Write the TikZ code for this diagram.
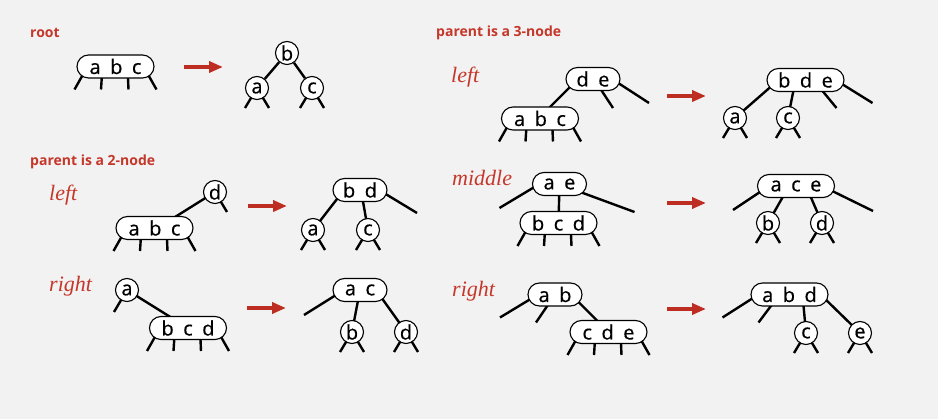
\documentclass[tikz,border=0pt]{standalone}
\usepackage{fontspec}
\setsansfont{Open Sans}
\newfontfamily\keyfont[FakeBold=0.5]{Open Sans}
\newfontfamily\casefont{Liberation Serif}
\usepackage{tikz}
\usetikzlibrary{arrows.meta, backgrounds}
\definecolor{pagebg}{HTML}{F2F2F2}
\definecolor{caseRed}{HTML}{C4372A}
\definecolor{arrowRed}{HTML}{BD2D21}
\newcommand{\kgap}{\hspace{9.5pt}}
\newcommand{\kidlegs}[1]{%
  \foreach \s/\e in {-28/-13, -13/-1.5, 12/1, 28/13}
    \draw[leg] ([xshift=\s]#1.center) -- ++(\e,23);%
}
\newcommand{\twolegs}[1]{\draw[leg] (#1.center) -- ++(-12,20) (#1.center) -- ++(12,20);}

\begin{document}
\begin{tikzpicture}[x=1pt, y=-1pt,
  keybox/.style={draw, fill=white, line width=1.1pt, rounded corners=11.5pt, minimum height=23pt, inner sep=0pt, font=\keyfont\fontsize{20}{20}\selectfont},
  twonode/.style={keybox, minimum width=54pt},
  thrnode/.style={keybox, minimum width=77pt},
  onekey/.style={draw, fill=white, line width=1.1pt, circle, minimum size=23pt, inner sep=0pt, font=\keyfont\fontsize{20}{20}\selectfont},
  link/.style={line width=2.4pt},
  leg/.style={line width=2.4pt},
  push/.style={arrowRed, line width=4pt, -{Triangle[length=14pt,width=11pt]}},
  heading/.style={anchor=base west, inner sep=0pt, caseRed, font=\sffamily\bfseries\fontsize{14}{14}\selectfont},
  casename/.style={anchor=base west, inner sep=0pt, caseRed, font=\casefont\itshape\fontsize{22}{22}\selectfont}]
\useasboundingbox (0,0) rectangle (938,419);

\node[heading] (root-lbl) at (30,38) {root};
\node[heading] (two-lbl) at (30,166) {parent is a 2-node};
\node[heading] (thr-lbl) at (436,37) {parent is a 3-node};
\node[casename] (twoL-lbl) at (49,201) {left};
\node[casename] (twoR-lbl) at (49,292) {right};
\node[casename] (thrL-lbl) at (451,83) {left};
\node[casename] (thrM-lbl) at (452,186) {middle};
\node[casename] (thrR-lbl) at (452,297) {right};

% root
\node[thrnode] (root-abc) at (115.5,66.5) {a\kgap b\kgap c};
\node[onekey] (root-b) at (287,53) {b};
\node[onekey] (root-a) at (257,88) {a};
\node[onekey] (root-c) at (312,88) {c};

% parent is a 2-node
\node[onekey] (twoL-d) at (215,192) {d};
\node[thrnode] (twoL-abc) at (154.5,228) {a\kgap b\kgap c};
\node[twonode] (twoL-bd) at (360,190) {b\kgap d};
\node[onekey] (twoL-a) at (313,230) {a};
\node[onekey] (twoL-c) at (368,230) {c};

\node[onekey] (twoR-a) at (127,290) {a};
\node[thrnode] (twoR-bcd) at (188,328) {b\kgap c\kgap d};
\node[twonode] (twoR-ac) at (360,290) {a\kgap c};
\node[onekey] (twoR-b) at (352,332) {b};
\node[onekey] (twoR-d) at (406,332) {d};

% parent is a 3-node
\node[twonode] (thrL-de) at (593,79) {d\kgap e};
\node[thrnode] (thrL-abc) at (540,118.5) {a\kgap b\kgap c};
\node[thrnode] (thrL-bde) at (805.5,80) {b\kgap d\kgap e};
\node[onekey] (thrL-a) at (735,118) {a};
\node[onekey] (thrL-c) at (788,118) {c};

\node[twonode] (thrM-ae) at (559.5,184) {a\kgap e};
\node[thrnode] (thrM-bcd) at (558.5,223) {b\kgap c\kgap d};
\node[thrnode] (thrM-ace) at (796,186) {a\kgap c\kgap e};
\node[onekey] (thrM-b) at (768,223) {b};
\node[onekey] (thrM-d) at (822,223) {d};

\node[twonode] (thrR-ab) at (555,294.5) {a\kgap b};
\node[thrnode] (thrR-cde) at (608.5,332) {c\kgap d\kgap e};
\node[thrnode] (thrR-abd) at (789.5,294.5) {a\kgap b\kgap d};
\node[onekey] (thrR-c) at (806,333) {c};
\node[onekey] (thrR-e) at (860,333) {e};

\foreach \n/\x/\y in {1/184/67, 2/248/206, 3/247/308, 4/667/96, 5/667/203, 6/667/309} {
  \coordinate (from\n) at (\x,\y);
  \coordinate (to\n) at (\x+39,\y);
  \draw[push] (from\n) -- (to\n);
}

\begin{scope}[on background layer]
\fill[pagebg] (0,0) rectangle (938,419);
% root
\kidlegs{root-abc}
\draw[link] (root-b) -- (root-a) (root-b) -- (root-c);
\twolegs{root-a} \twolegs{root-c}
% 2-node, left
\draw[link] (twoL-d.center) -- ([xshift=3]twoL-abc.center);
\draw[leg] (twoL-d.center) -- ++(12,20);
\kidlegs{twoL-abc}
\draw[link] ([xshift=-16]twoL-bd.center) -- (twoL-a.center);
\draw[link] ([xshift=1]twoL-bd.center) -- (twoL-c.center);
\draw[leg] ([xshift=19]twoL-bd.center) -- ++(38,23);
\twolegs{twoL-a} \twolegs{twoL-c}
% 2-node, right
\draw[leg] (twoR-a.center) -- ++(-13,22);
\draw[link] (twoR-a.center) -- (twoR-bcd.center);
\kidlegs{twoR-bcd}
\draw[leg] ([xshift=-16]twoR-ac.center) -- ++(-40,25);
\draw[link] (twoR-ac.center) -- (twoR-b.center);
\draw[link] ([xshift=16]twoR-ac.center) -- (twoR-d.center);
\twolegs{twoR-b} \twolegs{twoR-d}
% 3-node, left
\draw[link] ([xshift=-15]thrL-de.center) -- ([xshift=-1.5]thrL-abc.center);
\draw[leg] ([xshift=1]thrL-de.center) -- ++(19,29);
\draw[leg] ([xshift=19]thrL-de.center) -- ++(37,24);
\kidlegs{thrL-abc}
\draw[link] ([xshift=-27]thrL-bde.center) -- (thrL-a.center);
\draw[link] ([xshift=-10]thrL-bde.center) -- (thrL-c.center);
\draw[leg] ([xshift=8]thrL-bde.center) -- ++(23,28);
\draw[leg] ([xshift=30]thrL-bde.center) -- ++(37,23);
\twolegs{thrL-a} \twolegs{thrL-c}
% 3-node, middle
\draw[leg] ([xshift=-20]thrM-ae.center) -- ++(-40,24);
\draw[link] (thrM-ae.center) -- (thrM-bcd.center);
\draw[leg] ([xshift=-1]thrM-ae.center) -- ++(76,28);
\kidlegs{thrM-bcd}
\draw[leg] ([xshift=-27]thrM-ace.center) -- ++(-36,24);
\draw[link] ([xshift=-7]thrM-ace.center) -- (thrM-b.center);
\draw[link] ([xshift=10]thrM-ace.center) -- (thrM-d.center);
\draw[leg] ([xshift=26]thrM-ace.center) -- ++(51,25);
\twolegs{thrM-b} \twolegs{thrM-d}
% 3-node, right
\draw[leg] ([xshift=-17]thrR-ab.center) -- ++(-38,23);
\draw[leg] (thrR-ab.center) -- ++(-19,28);
\draw[link] ([xshift=16]thrR-ab.center) -- (thrR-cde.center);
\kidlegs{thrR-cde}
\draw[leg] ([xshift=-31]thrR-abd.center) -- ++(-36,23);
\draw[leg] ([xshift=-10]thrR-abd.center) -- ++(-21,28);
\draw[link] ([xshift=13]thrR-abd.center) -- (thrR-c.center);
\draw[link] ([xshift=31]thrR-abd.center) -- (thrR-e.center);
\twolegs{thrR-c} \twolegs{thrR-e}
\end{scope}
\end{tikzpicture}
\end{document}
